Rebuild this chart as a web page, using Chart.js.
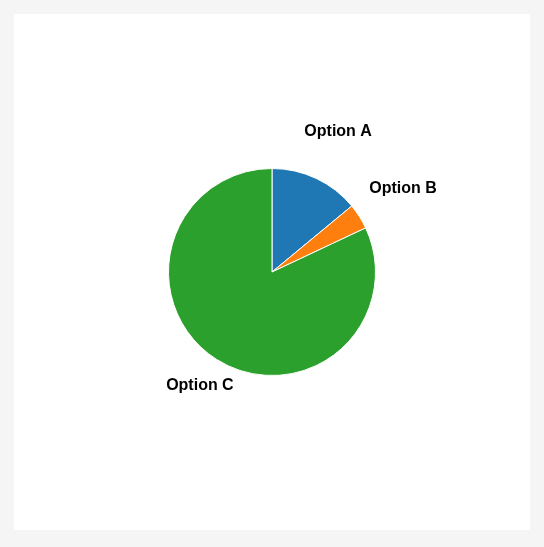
<!DOCTYPE html>
<html>
<head>
<meta charset="utf-8">
<script src="https://cdn.jsdelivr.net/npm/chart.js@4"></script>
<style>
    body { margin: 0; background: #f5f5f5; }
    .card { position: absolute; left: 14px; top: 14px; width: 516px; height: 516px; background: #fff; }
</style>
</head>
<body>
<div class="card"><canvas id="pieChart" width="516" height="516"></canvas></div>
<script>
const labels = ['Option A', 'Option B', 'Option C'];
const values = [14, 4, 82];
const colors = ['#1f77b4', '#ff7f0e', '#2ca02c'];

// draws each label outside its slice
const outsideLabels = {
    id: 'outsideLabels',
    afterDatasetsDraw(chart) {
        const ctx = chart.ctx;
        ctx.save();
        ctx.font = 'bold 16px "Liberation Sans", Arial, sans-serif';
        ctx.fillStyle = '#000';
        ctx.textAlign = 'center';
        ctx.textBaseline = 'middle';
        chart.getDatasetMeta(0).data.forEach((arc, i) => {
            const mid = (arc.startAngle + arc.endAngle) / 2;
            const r = arc.outerRadius * (i === 2 ? 1.3 : 1.5);
            ctx.fillText(labels[i], arc.x + Math.cos(mid) * r, arc.y + Math.sin(mid) * r);
        });
        ctx.restore();
    }
};

new Chart(document.getElementById('pieChart').getContext('2d'), {
    type: 'pie',
    data: {
        labels: labels,
        datasets: [{
            data: values,
            backgroundColor: colors,
            borderColor: '#fff',
            borderWidth: 1
        }]
    },
    options: {
        responsive: false,
        animation: false,
        layout: { padding: 154 },
        plugins: {
            legend: { display: false },
            tooltip: { enabled: false }
        }
    },
    plugins: [outsideLabels]
});
</script>
</body>
</html>
